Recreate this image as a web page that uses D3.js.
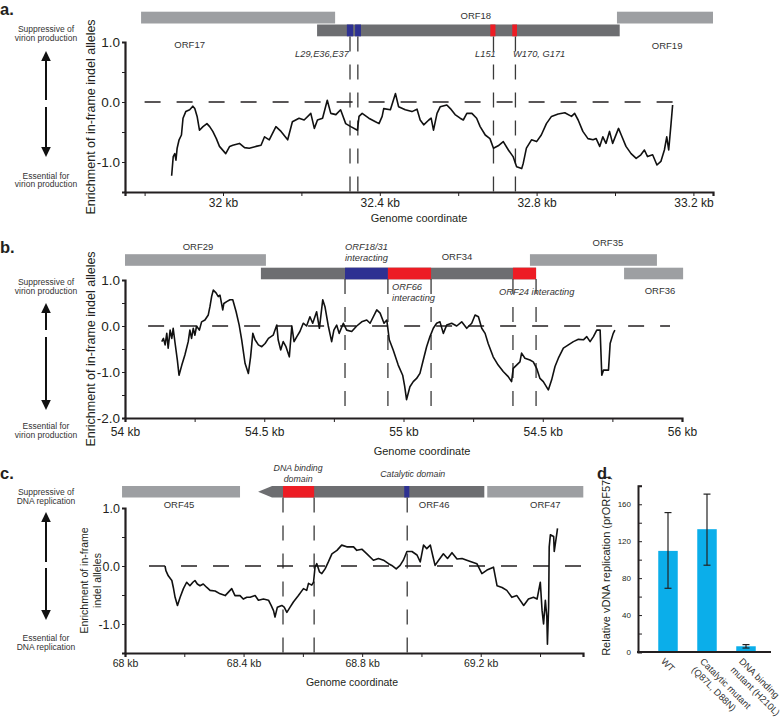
<!DOCTYPE html>
<html><head><meta charset="utf-8">
<script src="https://cdn.jsdelivr.net/npm/d3@7"></script>
<style>
body{margin:0;background:#fff}
svg{display:block}
text{font-family:"Liberation Sans",Arial,Helvetica,sans-serif;fill:#231f20}
</style>
</head><body>
<svg id="fig" width="783" height="718"></svg>
<script>
// ---------------- DATA ----------------
// Panel a (ORF18 region): [genome kb, enrichment]
const traceA = [[31.869,-1.23],[31.873,-0.91],[31.877,-0.86],[31.880,-0.97],[31.883,-0.77],[31.888,-0.63],[31.894,-0.55],[31.898,-0.27],[31.905,-0.16],[31.915,-0.13],[31.923,-0.07],[31.928,-0.11],[31.934,-0.24],[31.940,-0.47],[31.949,-0.41],[31.959,-0.36],[31.966,-0.41],[31.974,-0.49],[31.983,-0.61],[31.991,-0.74],[32.007,-0.86],[32.017,-0.74],[32.025,-0.72],[32.042,-0.69],[32.055,-0.76],[32.067,-0.77],[32.084,-0.74],[32.097,-0.72],[32.106,-0.58],[32.118,-0.63],[32.135,-0.41],[32.148,-0.49],[32.165,-0.63],[32.177,-0.33],[32.194,-0.27],[32.207,-0.30],[32.224,-0.19],[32.233,-0.44],[32.241,-0.30],[32.254,-0.27],[32.266,0.03],[32.275,-0.19],[32.288,-0.21],[32.300,-0.13],[32.313,-0.36],[32.326,-0.41],[32.343,-0.47],[32.347,-0.24],[32.355,-0.19],[32.372,-0.27],[32.389,-0.33],[32.398,-0.36],[32.406,-0.24],[32.410,-0.11],[32.427,-0.13],[32.440,0.14],[32.448,-0.08],[32.465,-0.13],[32.482,-0.16],[32.495,-0.12],[32.503,-0.30],[32.512,-0.38],[32.525,-0.30],[32.531,-0.27],[32.537,-0.47],[32.546,-0.19],[32.554,-0.08],[32.571,-0.05],[32.580,-0.11],[32.592,-0.21],[32.605,-0.27],[32.613,-0.30],[32.622,-0.19],[32.635,-0.19],[32.647,-0.27],[32.656,-0.41],[32.669,-0.55],[32.681,-0.61],[32.690,-0.77],[32.702,-0.73],[32.715,-0.66],[32.728,-0.80],[32.740,-0.91],[32.749,-1.08],[32.762,-1.11],[32.766,-1.02],[32.774,-0.77],[32.787,-0.63],[32.800,-0.66],[32.812,-0.55],[32.825,-0.36],[32.838,-0.24],[32.855,-0.20],[32.872,-0.18],[32.889,-0.24],[32.897,-0.19],[32.906,-0.30],[32.918,-0.49],[32.931,-0.61],[32.944,-0.63],[32.952,-0.61],[32.961,-0.74],[32.969,-0.58],[32.977,-0.69],[32.986,-0.49],[32.994,-0.69],[33.009,-0.44],[33.016,-0.55],[33.028,-0.74],[33.041,-0.86],[33.054,-0.94],[33.066,-0.88],[33.075,-0.80],[33.083,-0.91],[33.096,-0.88],[33.107,-1.05],[33.117,-0.99],[33.126,-0.80],[33.132,-0.58],[33.137,-0.80],[33.143,-0.36],[33.147,-0.05]];
const genesA = [
  {name:"ORF17", start:31.791, end:32.286, row:0, tone:"light"},
  {name:"ORF18", start:32.240, end:33.012, row:1, tone:"dark"},
  {name:"ORF19", start:33.005, end:33.250, row:0, tone:"light"}
];
const domainsA = [
  {start:32.316, end:32.332, row:1, kind:"blue"},
  {start:32.337, end:32.352, row:1, kind:"blue"},
  {start:32.682, end:32.695, row:1, kind:"red"},
  {start:32.738, end:32.750, row:1, kind:"red"}
];
const sitesA = [32.324, 32.344, 32.690, 32.746];
const xTicksA = [31.8, 32.0, 32.2, 32.4, 32.6, 32.8, 33.0, 33.2];
const xTickLabelsA = ["", "32 kb", "", "32.4 kb", "", "32.8 kb", "", "33.2 kb"];
const yTicksA = [-1.0, -0.5, 0.0, 0.5, 1.0];
const yTickLabelsA = ["-1.0", "", "0.0", "", "1.0"];
const labelsA = [
  {text:"ORF17", x:31.915, anchor:"middle", italic:false},
  {text:"ORF18", x:32.645, anchor:"middle", italic:false},
  {text:"ORF19", x:33.133, anchor:"middle", italic:false},
  {text:"L29,E36,E37", x:32.321, anchor:"end", italic:true},
  {text:"L151", x:32.643, anchor:"start", italic:true},
  {text:"W170, G171", x:32.740, anchor:"start", italic:true}
];

// Panel b (ORF34 region)
const traceB = [[54.132,-0.34],[54.138,-0.27],[54.144,-0.41],[54.150,-0.16],[54.155,-0.48],[54.162,-0.09],[54.168,-0.27],[54.173,-0.05],[54.180,-0.38],[54.188,-0.74],[54.194,-1.07],[54.204,-0.85],[54.215,-0.63],[54.227,-0.34],[54.233,-0.09],[54.239,-0.27],[54.245,-0.05],[54.251,-0.20],[54.257,0.00],[54.267,-0.09],[54.275,0.09],[54.287,0.13],[54.299,0.24],[54.305,0.42],[54.311,0.64],[54.317,0.78],[54.327,0.72],[54.335,0.64],[54.341,0.67],[54.351,0.35],[54.355,0.49],[54.365,0.53],[54.377,0.57],[54.387,0.57],[54.399,0.31],[54.410,0.02],[54.419,-0.30],[54.431,-0.81],[54.443,-1.03],[54.451,-0.67],[54.459,-0.16],[54.467,-0.30],[54.479,-0.41],[54.491,-0.45],[54.503,-0.38],[54.515,-0.27],[54.532,-0.20],[54.545,0.02],[54.550,-0.30],[54.559,-0.52],[54.568,-0.34],[54.578,-0.45],[54.590,-0.67],[54.599,0.00],[54.607,-0.34],[54.617,-0.23],[54.628,-0.12],[54.640,0.06],[54.652,0.00],[54.664,0.20],[54.674,0.06],[54.688,0.31],[54.698,-0.05],[54.710,0.57],[54.718,0.42],[54.730,0.00],[54.742,-0.34],[54.750,-0.09],[54.760,0.02],[54.769,-0.16],[54.784,0.06],[54.796,-0.09],[54.814,-0.12],[54.832,0.00],[54.850,0.09],[54.868,0.13],[54.880,0.06],[54.904,0.35],[54.916,0.28],[54.930,0.06],[54.940,0.13],[54.949,-0.30],[54.963,-0.52],[54.981,-0.85],[54.997,-1.07],[55.004,-1.30],[55.011,-1.60],[55.023,-1.32],[55.035,-1.21],[55.047,-1.14],[55.059,-1.03],[55.071,-0.74],[55.083,-0.45],[55.095,-0.23],[55.107,-0.05],[55.119,0.06],[55.131,0.09],[55.143,-0.16],[55.155,0.02],[55.173,0.06],[55.191,0.00],[55.209,0.09],[55.227,-0.05],[55.245,0.06],[55.257,0.24],[55.269,0.20],[55.281,-0.05],[55.293,-0.16],[55.304,-0.38],[55.322,-0.67],[55.340,-0.85],[55.358,-0.99],[55.376,-1.10],[55.388,-1.21],[55.394,-0.92],[55.406,-0.85],[55.418,-0.78],[55.424,-0.59],[55.436,-0.70],[55.454,-0.74],[55.466,-0.78],[55.478,-0.92],[55.490,-1.14],[55.502,-1.21],[55.520,-1.39],[55.532,-1.17],[55.544,-0.88],[55.556,-0.70],[55.574,-0.48],[55.592,-0.41],[55.610,-0.34],[55.628,-0.29],[55.646,-0.30],[55.658,-0.23],[55.670,-0.34],[55.682,-0.23],[55.694,-0.09],[55.706,-0.09],[55.712,-1.07],[55.718,-0.96],[55.736,-0.96],[55.742,-0.38],[55.753,-0.16],[55.759,-0.09]];
const genesB = [
  {name:"ORF29", start:54.000, end:54.506, row:0, tone:"light"},
  {name:"ORF34", start:54.488, end:55.476, row:1, tone:"dark"},
  {name:"ORF35", start:55.454, end:55.910, row:0, tone:"light"},
  {name:"ORF36", start:55.792, end:56.004, row:1, tone:"light"}
];
const domainsB = [
  {start:54.790, end:54.944, row:1, kind:"blue"},
  {start:54.944, end:55.099, row:1, kind:"red"},
  {start:55.393, end:55.476, row:1, kind:"red"}
];
const sitesB = [54.790, 54.944, 55.099, 55.393, 55.476];
const xTicksB = [54.0, 54.25, 54.5, 54.75, 55.0, 55.25, 55.5, 55.75, 56.0];
const xTickLabelsB = ["54 kb", "", "54.5 kb", "", "55 kb", "", "54.5 kb", "", "56 kb"];
const yTicksB = [-2.0, -1.5, -1.0, -0.5, 0.0, 0.5, 1.0];
const yTickLabelsB = ["-2.0", "", "-1.0", "", "0.0", "", "1.0"];
const labelsB = [
  {text:"ORF29", x:54.262, anchor:"middle", italic:false},
  {text:"ORF18/31|interacting", x:54.790, anchor:"start", italic:true},
  {text:"ORF34", x:55.192, anchor:"middle", italic:false},
  {text:"ORF35", x:55.734, anchor:"middle", italic:false},
  {text:"ORF36", x:55.921, anchor:"middle", italic:false},
  {text:"ORF66|interacting", x:54.959, anchor:"start", italic:true},
  {text:"ORF24 interacting", x:55.343, anchor:"start", italic:true}
];

// Panel c (ORF46 region)
const traceC = [[68.135,0.00],[68.138,-0.08],[68.146,-0.17],[68.158,-0.25],[68.163,-0.37],[68.169,-0.54],[68.177,-0.68],[68.186,-0.54],[68.197,-0.39],[68.208,-0.28],[68.219,-0.34],[68.229,-0.28],[68.236,-0.25],[68.244,-0.31],[68.253,-0.34],[68.264,-0.31],[68.276,-0.37],[68.287,-0.42],[68.304,-0.43],[68.321,-0.48],[68.338,-0.51],[68.349,-0.45],[68.360,-0.39],[68.371,-0.51],[68.388,-0.51],[68.399,-0.57],[68.411,-0.54],[68.422,-0.54],[68.439,-0.51],[68.450,-0.59],[68.467,-0.57],[68.484,-0.59],[68.493,-0.68],[68.501,-0.77],[68.506,-0.88],[68.514,-0.71],[68.529,-0.68],[68.537,-0.71],[68.546,-0.80],[68.557,-0.71],[68.568,-0.62],[68.585,-0.51],[68.602,-0.39],[68.613,-0.42],[68.619,-0.30],[68.630,-0.33],[68.636,-0.28],[68.641,-0.02],[68.647,0.04],[68.656,-0.10],[68.664,-0.13],[68.675,-0.05],[68.686,0.07],[68.698,0.21],[68.715,0.27],[68.731,0.36],[68.748,0.33],[68.759,0.33],[68.771,0.33],[68.782,0.27],[68.799,0.29],[68.816,0.21],[68.838,0.10],[68.855,0.13],[68.872,0.10],[68.889,0.04],[68.900,0.01],[68.915,-0.05],[68.928,0.01],[68.939,0.10],[68.951,0.25],[68.968,0.25],[68.985,0.19],[68.996,0.07],[69.007,0.36],[69.018,0.30],[69.030,0.36],[69.039,0.16],[69.046,0.01],[69.058,0.10],[69.074,0.21],[69.088,0.13],[69.103,0.23],[69.120,0.12],[69.137,0.13],[69.153,0.10],[69.170,0.07],[69.187,0.04],[69.204,-0.13],[69.221,-0.07],[69.243,-0.02],[69.255,-0.34],[69.272,-0.37],[69.288,-0.42],[69.305,-0.54],[69.322,-0.51],[69.345,-0.68],[69.361,-0.57],[69.378,-0.54],[69.390,-0.57],[69.401,-0.28],[69.407,-0.77],[69.412,-1.00],[69.418,-0.59],[69.423,-0.88],[69.425,-1.35],[69.429,-0.71],[69.431,0.33],[69.435,0.54],[69.446,0.51],[69.448,0.25],[69.457,0.57],[69.459,0.65]];
const genesC = [
  {name:"ORF45", start:67.990, end:68.388, row:0, tone:"light"},
  {name:"ORF46", start:68.496, end:69.212, row:0, tone:"dark", tip:68.449},
  {name:"ORF47", start:69.222, end:69.546, row:0, tone:"light"}
];
const domainsC = [
  {start:68.533, end:68.638, row:0, kind:"red"},
  {start:68.942, end:68.959, row:0, kind:"blue"}
];
const sitesC = [68.533, 68.638, 68.952];
const xTicksC = [68.0, 68.2, 68.4, 68.6, 68.8, 69.0, 69.2, 69.4];
const xTickLabelsC = ["68 kb", "", "68.4 kb", "", "68.8 kb", "", "69.2 kb", ""];
const yTicksC = [-1.0, -0.5, 0.0, 0.5, 1.0];
const yTickLabelsC = ["-1.0", "", "0.0", "", "1.0"];
const labelsC = [
  {text:"ORF45", x:68.182, anchor:"middle", italic:false},
  {text:"ORF46", x:69.043, anchor:"middle", italic:false},
  {text:"ORF47", x:69.418, anchor:"middle", italic:false},
  {text:"DNA binding|domain", x:68.584, anchor:"middle", italic:true},
  {text:"Catalytic domain", x:68.861, anchor:"start", italic:true}
];

// Panel d (bar chart)
const barCategories = ["WT", "Catalytic mutant|(Q87L, D88N)", "DNA binding|mutant (H210L)"];
const barValues = [109.5, 133, 6.2];
const barErrLow = [69, 94, 4.3];
const barErrHigh = [151, 171, 8.0];
const yTicksD = [0, 20, 40, 60, 80, 100, 120, 140, 160, 180];
const yTickLabelsD = ["0", "", "40", "", "80", "", "120", "", "160", ""];

// ---------------- STYLE / LAYOUT ----------------
const TONE = {light:"#9d9fa2", dark:"#6d6e71"};
const KIND = {blue:"#2e3192", red:"#ed1c24"};
const INK = "#231f20";
const svg = d3.select("#fig");

function trackPanel(P) {
  const g = svg.append("g");
  const x = d3.scaleLinear().domain(P.xDomain).range(P.xRange);
  const y = d3.scaleLinear().domain(P.yDomain).range(P.yRange);
  const y0 = y.range()[0];

  // genes
  P.genes.forEach(d => {
    const top = P.rowY[d.row], h = P.barH;
    if (d.tip != null) {
      const xt = x(d.tip), xs = x(d.start), xe = x(d.end);
      g.append("path")
        .attr("d", `M${xt},${top+h/2}L${xs},${top}L${xe},${top}L${xe},${top+h}L${xs},${top+h}Z`)
        .attr("fill", TONE[d.tone]);
    } else {
      g.append("rect").attr("x", x(d.start)).attr("y", top)
        .attr("width", x(d.end)-x(d.start)).attr("height", h)
        .attr("fill", TONE[d.tone]);
    }
  });
  // domains
  g.selectAll(null).data(P.domains).join("rect")
    .attr("x", d => x(d.start)).attr("y", d => P.rowY[d.row])
    .attr("width", d => x(d.end)-x(d.start)).attr("height", P.barH)
    .attr("fill", d => KIND[d.kind]);

  // labels
  P.labels.forEach((d, i) => {
    const lines = d.text.split("|");
    const pos = P.labelPos[i];
    const t = g.append("text").attr("x", x(d.x)).attr("y", pos)
      .attr("text-anchor", d.anchor)
      .attr("font-size", d.italic ? P.italicSize : P.orfSize)
      .attr("font-style", d.italic ? "italic" : "normal")
      .style("fill", "#333");
    lines.forEach((l, k) => t.append("tspan").attr("x", x(d.x)).attr("dy", k === 0 ? 0 : P.lineGap).text(l));
  });

  // vertical dashed site lines
  g.selectAll(null).data(P.sites).join("line")
    .attr("x1", d => x(d)).attr("x2", d => x(d))
    .attr("y1", P.vTop).attr("y2", y0)
    .attr("stroke", "#3a3a3a").attr("stroke-width", 1.3)
    .attr("stroke-dasharray", "15,13");

  // zero line
  g.append("line").attr("x1", x(P.zeroFrom)).attr("x2", x(P.zeroTo))
    .attr("y1", y(0)).attr("y2", y(0))
    .attr("stroke", INK).attr("stroke-width", 1.3).attr("stroke-dasharray", "16,16");

  // trace
  g.append("path").datum(P.trace)
    .attr("d", d3.line().x(d => x(d[0])).y(d => y(d[1])))
    .attr("fill", "none").attr("stroke", "#111").attr("stroke-width", 1.6)
    .attr("stroke-linejoin", "round");

  // x axis
  const xa = g.append("g").attr("transform", `translate(0,${y0})`)
    .call(d3.axisBottom(x).tickValues(P.xTicks).tickSizeOuter(0).tickSize(4).tickPadding(P.xPad)
      .tickFormat((d, i) => P.xTickLabels[i]));
  xa.attr("font-size", P.xFont).attr("font-family", null).style("color", INK);
  xa.select(".domain").attr("stroke-width", 2.2);
  xa.selectAll(".tick line").attr("stroke-width", 1);

  // y axis
  const ya = g.append("g").attr("transform", `translate(${P.xRange[0]},0)`)
    .call(d3.axisLeft(y).tickValues(P.yTicks).tickSizeOuter(0).tickSize(3).tickPadding(2)
      .tickFormat((d, i) => P.yTickLabels[i]));
  ya.attr("font-size", P.yFont).attr("font-family", null).style("color", INK);
  ya.select(".domain").attr("stroke-width", 2.2);
  ya.selectAll(".tick line").attr("stroke-width", 1);

  // axis titles
  g.append("text").attr("x", P.xTitleX).attr("y", P.xTitleY).attr("text-anchor", "middle")
    .attr("font-size", P.xTitleSize).text("Genome coordinate");
  const cy = (P.yRange[0] + P.yRange[1]) / 2;
  P.yTitle.forEach((l, k) => {
    g.append("text").attr("transform", `translate(${P.yTitleX[k]},${cy}) rotate(-90)`)
      .attr("text-anchor", "middle").attr("font-size", P.yTitleSize).text(l);
  });

  // left annotation with double arrow
  const A = P.arrow;
  const ax = 46;
  const note = (txt, yy) => g.append("text").attr("x", ax).attr("y", yy).attr("text-anchor", "middle")
    .attr("font-size", 8.5).style("fill", "#333").text(txt);
  note(A.top[0], A.topY[0]); note(A.top[1], A.topY[1]);
  note(A.bot[0], A.botY[0]); note(A.bot[1], A.botY[1]);
  g.append("path").attr("d", `M${ax},${A.tip1}L${ax-4.8},${A.tip1+10}L${ax+4.8},${A.tip1+10}Z`).attr("fill", "#111");
  g.append("path").attr("d", `M${ax},${A.tip2}L${ax-4.8},${A.tip2-10}L${ax+4.8},${A.tip2-10}Z`).attr("fill", "#111");
  g.append("line").attr("x1", ax).attr("x2", ax).attr("y1", A.tip1+9).attr("y2", A.gap[0]).attr("stroke", "#111").attr("stroke-width", 2);
  g.append("line").attr("x1", ax).attr("x2", ax).attr("y1", A.gap[1]).attr("y2", A.tip2-9).attr("stroke", "#111").attr("stroke-width", 2);

  // panel letter
  g.append("text").attr("x", 0).attr("y", P.letterY).attr("font-size", 16.5).attr("font-weight", "bold").text(P.letter);
}

trackPanel({
  letter:"a.", letterY:15,
  xDomain:[31.75, 33.25], xRange:[125, 713], yDomain:[-1.5, 1.0], yRange:[192, 42],
  rowY:[11.7, 24.5], barH:11.8, vTop:36.5,
  genes:genesA, domains:domainsA, sites:sitesA, trace:traceA,
  labels:labelsA, labelPos:[48, 18.5, 49, 57, 57, 57], orfSize:9.5, italicSize:9.3, lineGap:11,
  zeroFrom:31.8, zeroTo:33.147,
  xTicks:xTicksA, xTickLabels:xTickLabelsA, xFont:12, xPad:2,
  yTicks:yTicksA, yTickLabels:yTickLabelsA, yFont:13.5,
  xTitleX:419, xTitleY:221.5, xTitleSize:11,
  yTitle:["Enrichment of in-frame indel alleles"], yTitleX:[95], yTitleSize:12.5,
  arrow:{top:["Suppressive of","virion production"], topY:[31.5,40.5], bot:["Essential for","virion production"], botY:[178.5,187], tip1:51, tip2:157, gap:[100,107]}
});

trackPanel({
  letter:"b.", letterY:252.5,
  xDomain:[54, 56], xRange:[125, 682], yDomain:[-2, 1], yRange:[418, 280],
  rowY:[254.2, 267.7], barH:11.6, vTop:279,
  genes:genesB, domains:domainsB, sites:sitesB, trace:traceB,
  labels:labelsB, labelPos:[250, 250, 260, 246, 294, 290, 295], orfSize:9.5, italicSize:9.3, lineGap:11,
  zeroFrom:54.083, zeroTo:55.957,
  xTicks:xTicksB, xTickLabels:xTickLabelsB, xFont:12, xPad:5,
  yTicks:yTicksB, yTickLabels:yTickLabelsB, yFont:13.5,
  xTitleX:422, xTitleY:455, xTitleSize:11,
  yTitle:["Enrichment of in-frame indel alleles"], yTitleX:[95], yTitleSize:12.5,
  arrow:{top:["Suppressive of","virion production"], topY:[285,293.5], bot:["Essential for","virion production"], botY:[429,438], tip1:303, tip2:410, gap:[330,337]}
});

trackPanel({
  letter:"c.", letterY:478.5,
  xDomain:[68, 69.545], xRange:[125, 583], yDomain:[-1.5, 1.0], yRange:[653, 508],
  rowY:[486], barH:11.5, vTop:497.5,
  genes:genesC, domains:domainsC, sites:sitesC, trace:traceC,
  labels:labelsC, labelPos:[508, 508, 508, 470.5, 476.5], orfSize:9.5, italicSize:8.8, lineGap:11,
  zeroFrom:68.081, zeroTo:69.546,
  xTicks:xTicksC, xTickLabels:xTickLabelsC, xFont:10.5, xPad:3,
  yTicks:yTicksC, yTickLabels:yTickLabelsC, yFont:12.5,
  xTitleX:352, xTitleY:686, xTitleSize:10.5,
  yTitle:["Enrichment of in-frame", "indel alleles"], yTitleX:[88, 101], yTitleSize:10.5,
  arrow:{top:["Suppressive of","DNA replication"], topY:[495,504], bot:["Essential for","DNA replication"], botY:[641,649.5], tip1:512, tip2:620, gap:[562,568]}
});

// ---- panel d ----
(function(){
  const g = svg.append("g");
  const x = d3.scaleBand().domain(barCategories).range([648.5, 765.5]).paddingInner(0.5).paddingOuter(0.25);
  const y = d3.scaleLinear().domain([0, 180]).range([652, 485.8]);
  const idx = barCategories.map((c, i) => i);

  g.selectAll(null).data(idx).join("rect")
    .attr("x", i => x(barCategories[i])).attr("width", x.bandwidth())
    .attr("y", i => y(barValues[i])).attr("height", i => y(0) - y(barValues[i]))
    .attr("fill", "#0baeea");

  // error bars
  const cx = i => x(barCategories[i]) + x.bandwidth()/2;
  g.selectAll(null).data(idx).join("line")
    .attr("x1", cx).attr("x2", cx).attr("y1", i => y(barErrLow[i])).attr("y2", i => y(barErrHigh[i]))
    .attr("stroke", "#222").attr("stroke-width", 1.2);
  [barErrLow, barErrHigh].forEach(arr => {
    g.selectAll(null).data(idx).join("line")
      .attr("x1", i => cx(i) - 3.5).attr("x2", i => cx(i) + 3.5)
      .attr("y1", i => y(arr[i])).attr("y2", i => y(arr[i]))
      .attr("stroke", "#222").attr("stroke-width", 1.2);
  });

  // y axis
  const ya = g.append("g").attr("transform", "translate(638,0)")
    .call(d3.axisLeft(y).tickValues(yTicksD).tickSizeOuter(0).tickSize(-4).tickPadding(7)
      .tickFormat((d, i) => yTickLabelsD[i]));
  ya.attr("font-size", 8).attr("font-family", null).style("color", INK);
  ya.select(".domain").attr("stroke-width", 2);
  // x axis line
  g.append("line").attr("x1", 637).attr("x2", 771).attr("y1", y(0)).attr("y2", y(0))
    .attr("stroke", INK).attr("stroke-width", 2.2);

  // category labels (rotated)
  barCategories.forEach((c, i) => {
    const px = cx(i) - 7.5, py = 662;
    const t = g.append("text").attr("transform", `translate(${px},${py}) rotate(45)`)
      .attr("font-size", 9.4).attr("text-anchor", "start").style("fill", "#333");
    c.split("|").forEach((l, k) => t.append("tspan").attr("x", 0).attr("dy", k === 0 ? 0 : 12).text(l));
  });

  g.append("text").attr("transform", "translate(610,566) rotate(-90)")
    .attr("text-anchor", "middle").attr("font-size", 11).text("Relative vDNA replication (prORF57)");
  g.append("text").attr("x", 597).attr("y", 478.5).attr("font-size", 16.5).attr("font-weight", "bold").text("d.");
})();
</script>
</body></html>
